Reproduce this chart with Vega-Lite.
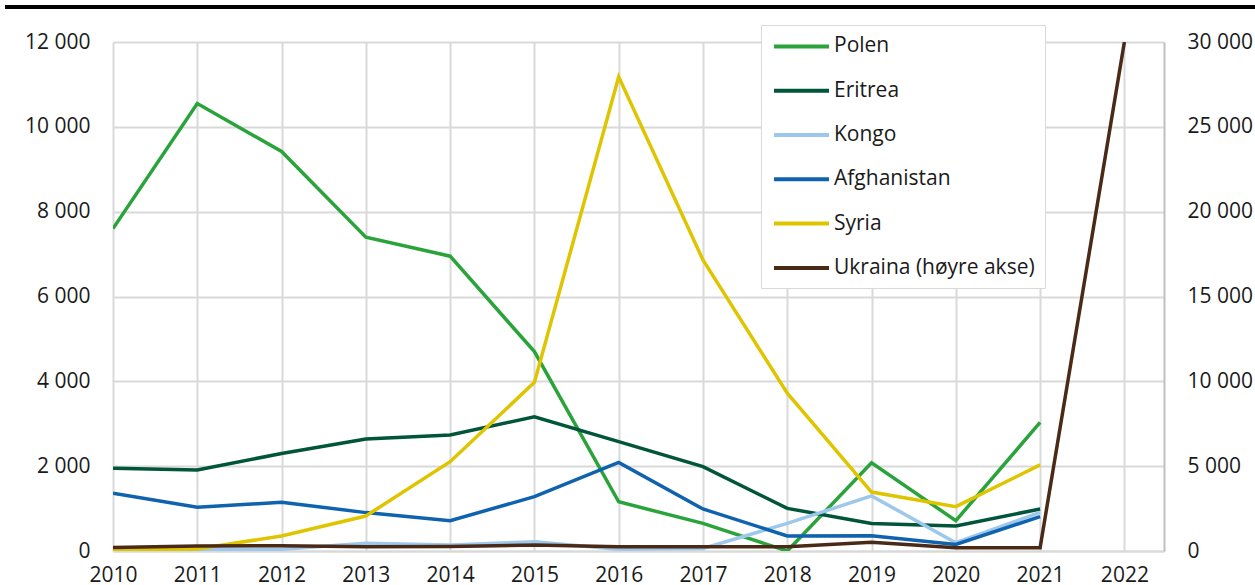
{
  "$schema": "https://vega.github.io/schema/vega-lite/v6.json",
  "autosize": {"type": "none"},
  "width": 1051,
  "height": 509,
  "padding": {"left": 113, "top": 42, "right": 91, "bottom": 34},
  "background": "white",
  "config": {
    "view": {"stroke": null},
    "font": "Open Sans",
    "locale": {"number": {"decimal": ",", "thousands": " ", "grouping": [3], "currency": ["", ""]}},
    "axis": {"labelFont": "Open Sans", "labelFontSize": 21, "labelColor": "#1a1a1a", "title": null, "ticks": false, "gridColor": "#d9d9d9", "gridWidth": 2}
  },
  "data": {"values": [
    {"year": 2010, "country": "Polen", "value": 7600},
    {"year": 2011, "country": "Polen", "value": 10550},
    {"year": 2012, "country": "Polen", "value": 9420},
    {"year": 2013, "country": "Polen", "value": 7400},
    {"year": 2014, "country": "Polen", "value": 6950},
    {"year": 2015, "country": "Polen", "value": 4700},
    {"year": 2016, "country": "Polen", "value": 1160},
    {"year": 2017, "country": "Polen", "value": 650},
    {"year": 2018, "country": "Polen", "value": 0},
    {"year": 2019, "country": "Polen", "value": 2080},
    {"year": 2020, "country": "Polen", "value": 715},
    {"year": 2021, "country": "Polen", "value": 3030},
    {"year": 2010, "country": "Eritrea", "value": 1950},
    {"year": 2011, "country": "Eritrea", "value": 1910},
    {"year": 2012, "country": "Eritrea", "value": 2300},
    {"year": 2013, "country": "Eritrea", "value": 2640},
    {"year": 2014, "country": "Eritrea", "value": 2735},
    {"year": 2015, "country": "Eritrea", "value": 3165},
    {"year": 2016, "country": "Eritrea", "value": 2580},
    {"year": 2017, "country": "Eritrea", "value": 1990},
    {"year": 2018, "country": "Eritrea", "value": 1005},
    {"year": 2019, "country": "Eritrea", "value": 650},
    {"year": 2020, "country": "Eritrea", "value": 590},
    {"year": 2021, "country": "Eritrea", "value": 990},
    {"year": 2010, "country": "Kongo", "value": 30},
    {"year": 2011, "country": "Kongo", "value": 40},
    {"year": 2012, "country": "Kongo", "value": 40},
    {"year": 2013, "country": "Kongo", "value": 180},
    {"year": 2014, "country": "Kongo", "value": 140},
    {"year": 2015, "country": "Kongo", "value": 220},
    {"year": 2016, "country": "Kongo", "value": 40},
    {"year": 2017, "country": "Kongo", "value": 60},
    {"year": 2018, "country": "Kongo", "value": 650},
    {"year": 2019, "country": "Kongo", "value": 1300},
    {"year": 2020, "country": "Kongo", "value": 195},
    {"year": 2021, "country": "Kongo", "value": 910},
    {"year": 2010, "country": "Afghanistan", "value": 1360},
    {"year": 2011, "country": "Afghanistan", "value": 1030},
    {"year": 2012, "country": "Afghanistan", "value": 1150},
    {"year": 2013, "country": "Afghanistan", "value": 905},
    {"year": 2014, "country": "Afghanistan", "value": 715},
    {"year": 2015, "country": "Afghanistan", "value": 1280},
    {"year": 2016, "country": "Afghanistan", "value": 2090},
    {"year": 2017, "country": "Afghanistan", "value": 990},
    {"year": 2018, "country": "Afghanistan", "value": 355},
    {"year": 2019, "country": "Afghanistan", "value": 360},
    {"year": 2020, "country": "Afghanistan", "value": 155},
    {"year": 2021, "country": "Afghanistan", "value": 810},
    {"year": 2010, "country": "Syria", "value": 20},
    {"year": 2011, "country": "Syria", "value": 50},
    {"year": 2012, "country": "Syria", "value": 355},
    {"year": 2013, "country": "Syria", "value": 825},
    {"year": 2014, "country": "Syria", "value": 2105},
    {"year": 2015, "country": "Syria", "value": 3975},
    {"year": 2016, "country": "Syria", "value": 11180},
    {"year": 2017, "country": "Syria", "value": 6860},
    {"year": 2018, "country": "Syria", "value": 3720},
    {"year": 2019, "country": "Syria", "value": 1390},
    {"year": 2020, "country": "Syria", "value": 1045},
    {"year": 2021, "country": "Syria", "value": 2030},
    {"year": 2010, "country": "Ukraina (høyre akse)", "value": 200},
    {"year": 2011, "country": "Ukraina (høyre akse)", "value": 295},
    {"year": 2012, "country": "Ukraina (høyre akse)", "value": 310},
    {"year": 2013, "country": "Ukraina (høyre akse)", "value": 250},
    {"year": 2014, "country": "Ukraina (høyre akse)", "value": 265},
    {"year": 2015, "country": "Ukraina (høyre akse)", "value": 355},
    {"year": 2016, "country": "Ukraina (høyre akse)", "value": 250},
    {"year": 2017, "country": "Ukraina (høyre akse)", "value": 250},
    {"year": 2018, "country": "Ukraina (høyre akse)", "value": 250},
    {"year": 2019, "country": "Ukraina (høyre akse)", "value": 510},
    {"year": 2020, "country": "Ukraina (høyre akse)", "value": 195},
    {"year": 2021, "country": "Ukraina (høyre akse)", "value": 195},
    {"year": 2022, "country": "Ukraina (høyre akse)", "value": 30000}
  ]},
  "encoding": {
    "x": {"field": "year", "type": "quantitative",
      "scale": {"domain": [2010, 2022.47], "nice": false, "zero": false},
      "axis": {"values": [2010, 2011, 2012, 2013, 2014, 2015, 2016, 2017, 2018, 2019, 2020, 2021, 2022], "format": "d", "grid": true, "domain": true, "domainColor": "#d9d9d9", "domainWidth": 2, "labelPadding": 13, "labelFlush": false, "labelOverlap": false}
    }
  },
  "layer": [
    {
      "encoding": {
        "y": {"field": "value", "type": "quantitative",
          "scale": {"domain": [0, 12000], "nice": false},
          "axis": {"orient": "left", "values": [0, 2000, 4000, 6000, 8000, 10000, 12000], "format": ",.0f", "grid": true, "domain": false, "labelPadding": 23}
        }
      },
      "layer": [
        {
          "transform": [{"filter": "datum.country != 'Ukraina (høyre akse)'"}],
          "mark": {"type": "line", "strokeWidth": 3.5, "clip": true},
          "encoding": {
            "color": {"field": "country", "type": "nominal",
              "scale": {"domain": ["Polen", "Eritrea", "Kongo", "Afghanistan", "Syria", "Ukraina (høyre akse)"],
                        "range": ["#2aa33b", "#00553a", "#9dc8eb", "#0f62ad", "#dec500", "#4a2a16"]},
              "legend": {"title": null, "orient": "none", "legendX": 648, "legendY": -17, "direction": "vertical",
                "symbolType": "M-2.75,0H2.75", "symbolSize": 400, "symbolStrokeWidth": 4, "symbolOffset": 19.1,
                "symbolFillColor": "transparent",
                "labelFont": "Open Sans", "labelFontSize": 21, "labelColor": "#1a1a1a", "labelOffset": 20.5, "labelLimit": 400,
                "rowPadding": 22.3, "padding": 9.4, "strokeColor": "#d9d9d9", "fillColor": "white"}
            }
          }
        },
        {
          "mark": {"type": "rule", "color": "black", "strokeWidth": 2.5, "clip": false},
          "encoding": {
            "y": {"datum": 12825},
            "x": {"datum": 2008.72},
            "x2": {"datum": 2023.6}
          }
        }
      ]
    },
    {
      "transform": [{"filter": "datum.country == 'Ukraina (høyre akse)'"}],
      "mark": {"type": "line", "strokeWidth": 3.5, "clip": true},
      "encoding": {
        "color": {"field": "country", "type": "nominal"},
        "y": {"field": "value", "type": "quantitative",
          "scale": {"domain": [0, 30000], "nice": false},
          "axis": {"orient": "right", "values": [0, 5000, 10000, 15000, 20000, 25000, 30000], "format": ",.0f", "grid": false, "domain": true, "domainColor": "#bfbfbf", "domainWidth": 2, "labelPadding": 23}
        }
      }
    }
  ],
  "resolve": {"scale": {"y": "independent"}}
}
